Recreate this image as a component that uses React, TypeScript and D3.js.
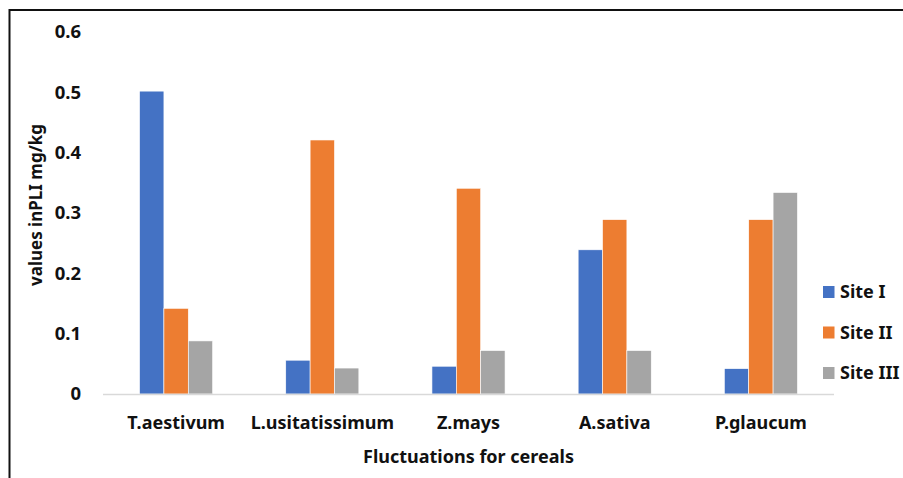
import { useEffect, useRef } from 'react'
import * as d3 from 'd3'

const categories = ['T.aestivum', 'L.usitatissimum', 'Z.mays', 'A.sativa', 'P.glaucum']
const seriesNames = ['Site I', 'Site II', 'Site III']
const siteI = [0.502, 0.056, 0.046, 0.239, 0.042]
const siteII = [0.142, 0.421, 0.341, 0.289, 0.289]
const siteIII = [0.088, 0.043, 0.072, 0.072, 0.334]
const yTicks = [0, 0.1, 0.2, 0.3, 0.4, 0.5, 0.6]

const COLORS = ['#4472C4', '#ED7D31', '#A5A5A5']
const FONT = '"Noto Sans", "Open Sans", sans-serif'

export default function App() {
  const svgRef = useRef<SVGSVGElement>(null)

  useEffect(() => {
    if (!svgRef.current) return
    const svg = d3.select(svgRef.current)
    svg.selectAll('*').remove()

    const width = 903
    const height = 478
    const left = 103
    const right = 834
    const top = 32
    const bottom = 394

    const series = [siteI, siteII, siteIII]

    // outer frame
    svg.append('rect')
      .attr('x', 9.5).attr('y', 10)
      .attr('width', width + 20).attr('height', height + 20)
      .attr('fill', 'white')
      .attr('stroke', '#111').attr('stroke-width', 2)

    const x0 = d3.scaleBand<string>()
      .domain(categories)
      .range([left, right])
      .paddingInner(0.5)
      .paddingOuter(0.25)

    const x1 = d3.scaleBand<number>()
      .domain([0, 1, 2])
      .range([0, x0.bandwidth()])

    const y = d3.scaleLinear().domain([0, 0.6]).range([bottom, top])

    // y tick labels
    svg.append('g')
      .selectAll('text')
      .data(yTicks)
      .enter()
      .append('text')
      .attr('x', 81)
      .attr('y', d => y(d))
      .attr('dy', '0.35em')
      .attr('text-anchor', 'end')
      .attr('font-family', FONT)
      .attr('font-weight', 'bold')
      .attr('font-size', '18.5px')
      .attr('fill', '#111')
      .text(d => d === 0 ? '0' : d3.format('.1f')(d))

    // bars
    const groups = svg.append('g')
      .selectAll('g')
      .data(categories)
      .enter()
      .append('g')
      .attr('transform', d => `translate(${x0(d)},0)`)

    groups.selectAll('rect')
      .data((_, i) => series.map((s, si) => ({ si, v: s[i] })))
      .enter()
      .append('rect')
      .attr('x', d => x1(d.si)!)
      .attr('y', d => y(d.v))
      .attr('width', x1.bandwidth())
      .attr('height', d => bottom - y(d.v))
      .attr('fill', d => COLORS[d.si])
      .attr('stroke', 'white')
      .attr('stroke-width', 0.6)

    // baseline
    svg.append('line')
      .attr('x1', left).attr('x2', right)
      .attr('y1', bottom + 0.5).attr('y2', bottom + 0.5)
      .attr('stroke', '#d9d9d9').attr('stroke-width', 1.5)

    // x labels
    svg.append('g')
      .selectAll('text')
      .data(categories)
      .enter()
      .append('text')
      .attr('x', d => x0(d)! + x0.bandwidth() / 2)
      .attr('y', 423)
      .attr('dy', '0.35em')
      .attr('text-anchor', 'middle')
      .attr('font-family', FONT)
      .attr('font-weight', 'bold')
      .attr('font-size', '18px')
      .attr('fill', '#111')
      .text(d => d)

    svg.append('text')
      .attr('x', (left + right) / 2)
      .attr('y', 457)
      .attr('dy', '0.35em')
      .attr('text-anchor', 'middle')
      .attr('font-family', FONT)
      .attr('font-weight', 'bold')
      .attr('font-size', '18px')
      .attr('fill', '#111')
      .text('Fluctuations for cereals')

    svg.append('text')
      .attr('transform', `translate(36,205) rotate(-90)`)
      .attr('dy', '0.35em')
      .attr('text-anchor', 'middle')
      .attr('font-family', FONT)
      .attr('font-weight', 'bold')
      .attr('font-size', '17px')
      .attr('fill', '#111')
      .text('values inPLI mg/kg')

    // legend
    const legend = svg.append('g')
      .selectAll('g')
      .data(seriesNames)
      .enter()
      .append('g')
      .attr('transform', (_, i) => `translate(823,${292 + i * 40.5})`)

    legend.append('rect')
      .attr('x', 0).attr('y', -6)
      .attr('width', 11.5).attr('height', 12)
      .attr('fill', (_, i) => COLORS[i])

    legend.append('text')
      .attr('x', 17)
      .attr('dy', '0.35em')
      .attr('font-family', FONT)
      .attr('font-weight', 'bold')
      .attr('font-size', '18px')
      .attr('fill', '#111')
      .text(d => d)
  }, [])

  return (
    <div style={{ position: 'absolute', left: 0, top: 0 }}>
      <svg ref={svgRef} width={903} height={478} style={{ display: 'block' }} />
    </div>
  )
}
